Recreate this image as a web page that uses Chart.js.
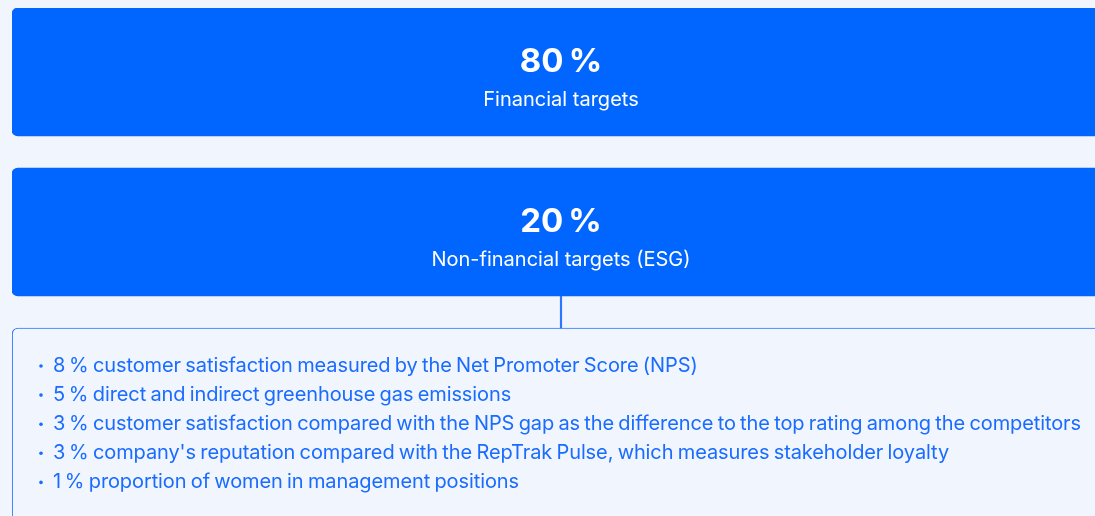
<!DOCTYPE html>
<html>
<head>
<meta charset="utf-8">
<script src="https://cdn.jsdelivr.net/npm/chart.js@4"></script>
<style>
  html, body { margin: 0; padding: 0; background: #f1f5fe; overflow: hidden; }
  .wrap { position: absolute; left: 0; top: 0; width: 1120px; height: 516px; }
</style>
</head>
<body>
<div class="wrap"><canvas id="myChart"></canvas></div>
<script>
// weighting of the targets
const shares = [80, 20];
const shareLabels = ['Financial targets', 'Non-financial targets (ESG)'];

// breakdown of the non-financial (ESG) part
const esgShares = [8, 5, 3, 3, 1];
const esgLabels = [
  'customer satisfaction measured by the Net Promoter Score (NPS)',
  'direct and indirect greenhouse gas emissions',
  'customer satisfaction compared with the NPS gap as the difference to the top rating among the competitors',
  "company's reputation compared with the RepTrak Pulse, which measures stakeholder loyalty",
  'proportion of women in management positions'
];

// layout rows (one row = 32px), top to bottom
const rows = { box1: [0, 4], box2: [5, 9], link: [9, 10], list: [10, 17] };

const BLUE = '#0066ff';
const BG = '#f1f5fe';
const FONT = 'Inter, "Noto Sans", sans-serif';

const pct = v => v + '\u202F%';

const textPlugin = {
  id: 'texts',
  afterDatasetsDraw(chart) {
    const ctx = chart.ctx;
    ctx.save();
    ctx.textAlign = 'center';
    ctx.textBaseline = 'alphabetic';
    shares.forEach((v, i) => {
      const bar = chart.getDatasetMeta(i).data[0];
      const p = bar.getProps(['x', 'y', 'base'], true);
      const cy = (p.y + p.base) / 2;
      ctx.fillStyle = '#ffffff';
      ctx.font = '700 33px ' + FONT;
      ctx.letterSpacing = '-0.8px';
      ctx.fillText(pct(v), p.x, cy);
      ctx.letterSpacing = '0px';
      ctx.font = '400 20px ' + FONT;
      ctx.fillText(shareLabels[i], p.x, cy + 34);
    });

    const list = chart.getDatasetMeta(3).data[0].getProps(['x', 'y', 'base', 'width'], true);
    const top = Math.min(list.y, list.base);
    const left = list.x - list.width / 2;
    ctx.textAlign = 'left';
    ctx.fillStyle = '#1a6cff';
    ctx.font = '400 20px ' + FONT;
    ctx.wordSpacing = '-1.2px';
    ctx.letterSpacing = '-0.1px';
    esgShares.forEach((v, i) => {
      const baseY = top + 44 + i * 29.1;
      ctx.beginPath();
      ctx.arc(left + 29, baseY - 6, 1.8, 0, Math.PI * 2);
      ctx.fill();
      ctx.fillText(pct(v) + ' ' + esgLabels[i], left + 41, baseY);
    });
    ctx.restore();
  }
};

const ctx = document.getElementById('myChart').getContext('2d');
new Chart(ctx, {
  type: 'bar',
  data: {
    labels: ['weights'],
    datasets: [
      { data: [rows.box1], backgroundColor: BLUE, borderRadius: 6, borderSkipped: false },
      { data: [rows.box2], backgroundColor: BLUE, borderRadius: 6, borderSkipped: false },
      { data: [rows.link], backgroundColor: '#2a78ff', barThickness: 1.5 },
      { data: [rows.list], backgroundColor: BG, borderColor: '#2a78ff', borderWidth: 1.2,
        borderRadius: 6, borderSkipped: false }
    ]
  },
  options: {
    responsive: true,
    maintainAspectRatio: false,
    animation: false,
    layout: { padding: { top: 8, left: 12, right: 10, bottom: 0 } },
    datasets: { bar: { grouped: false, categoryPercentage: 1, barPercentage: 1 } },
    plugins: { legend: { display: false }, tooltip: { enabled: false } },
    scales: {
      x: { display: false },
      y: { display: false, reverse: true, min: 0, max: 15.875 }
    }
  },
  plugins: [textPlugin]
});
</script>
</body>
</html>
